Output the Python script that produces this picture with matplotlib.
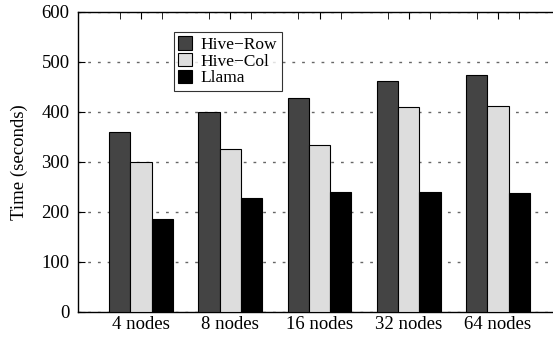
import numpy as np
import matplotlib
matplotlib.use("Agg")
import matplotlib.pyplot as plt

plt.rcParams['font.family'] = ['Liberation Serif', 'DejaVu Serif']

# data
groups = ['4 nodes', '8 nodes', '16 nodes', '32 nodes', '64 nodes']
hive_row = [361, 401, 428, 462, 474]
hive_col = [300, 327, 335, 410, 413]
llama = [187, 229, 241, 241, 239]

series = [('Hive\u2212Row', hive_row, '#444444'),
          ('Hive\u2212Col', hive_col, '#dddddd'),
          ('Llama', llama, '#000000')]

fig = plt.figure(figsize=(5.53, 3.37), dpi=100)
# axes run past the right edge: the reference is cropped there
ax = fig.add_axes([78 / 553, 25 / 337, 490 / 553, 300 / 337])

x = np.arange(len(groups))
w = 0.2375
for k, (name, vals, col) in enumerate(series):
    ax.bar(x + (k - 1) * w, vals, w, color=col, edgecolor='black',
           linewidth=0.8, label=name, zorder=3)

ax.set_xlim(-0.706, 4.784)
ax.set_ylim(0, 600)
ax.set_yticks(range(0, 601, 100))
ax.set_xticks(x)
ax.set_xticklabels(groups)
ax.set_xticks(np.concatenate([x - w, x + w]), minor=True)

ax.yaxis.grid(True, linestyle=(0, (2, 5)), color='#666666', linewidth=1.0, zorder=0)
ax.set_axisbelow(True)

ax.tick_params(axis='x', which='major', direction='in', top=True, bottom=True,
               length=5, labelsize=13.5, pad=3)
ax.tick_params(axis='x', which='minor', direction='in', top=True, bottom=False,
               length=5)
ax.tick_params(axis='y', direction='in', left=True, right=False, length=5,
               labelsize=13.5, pad=6)

for s in ax.spines.values():
    s.set_linewidth(1.0)

ax.set_ylabel('Time (seconds)', fontsize=13.5, labelpad=10)

leg = ax.legend(loc='upper left', bbox_to_anchor=((174 - 78) / 490, (312 - 32) / 300),
                fontsize=12.5, frameon=True, fancybox=False, edgecolor='black',
                handlelength=0.8, handleheight=0.8, handletextpad=0.5,
                labelspacing=0.0, borderpad=0.25, borderaxespad=0)
leg.get_frame().set_linewidth(0.8)

fig.savefig('out.png', dpi=100)
